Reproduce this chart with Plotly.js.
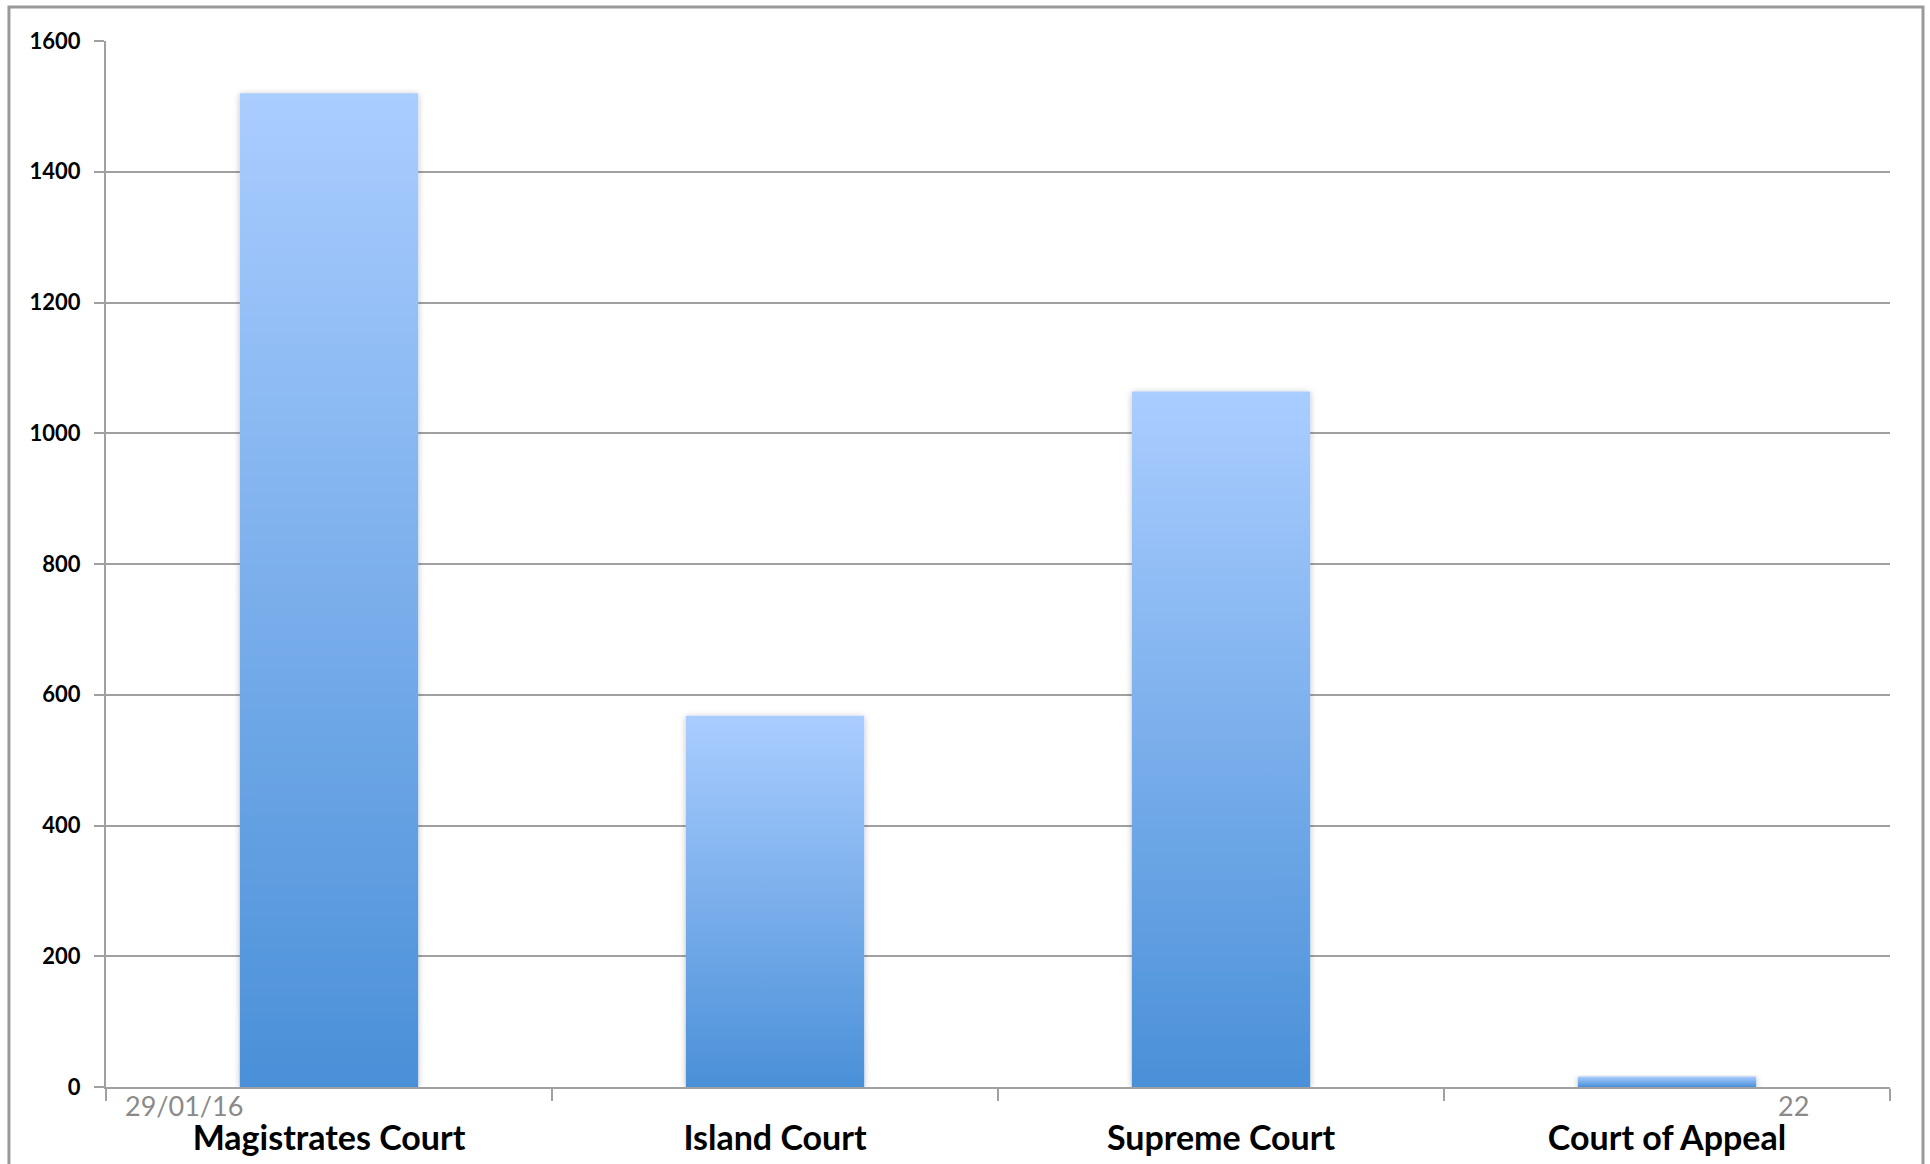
<!DOCTYPE html>
<html>
<head>
<meta charset="utf-8">
<script src="https://cdn.plot.ly/plotly-3.0.1.min.js"></script>
<style>
  html, body { margin: 0; padding: 0; background: #ffffff; }
  #chart { width: 1930px; height: 1164px; }
</style>
</head>
<body>
<div id="chart"></div>
<script>
// ---- data ----
const categories = ['Magistrates Court', 'Island Court', 'Supreme Court', 'Court of Appeal'];
const caseCounts = [1520, 568, 1064, 16];
const yTickValues = [0, 200, 400, 600, 800, 1000, 1200, 1400, 1600];
const footerDate = '29/01/16';
const footerPage = '22';

const gridColor = '#a0a0a0';

const trace = {
  type: 'bar',
  x: categories,
  y: caseCounts,
  marker: { color: '#78acec', line: { width: 0 } },
  hoverinfo: 'none'
};

const layout = {
  width: 1930,
  height: 1164,
  margin: { l: 106, r: 40, t: 41, b: 77, pad: 0 },
  paper_bgcolor: '#ffffff',
  plot_bgcolor: '#ffffff',
  bargap: 0.6,
  showlegend: false,
  font: { family: 'Lato, "Open Sans", sans-serif', color: '#000000' },
  xaxis: {
    type: 'category',
    showgrid: false,
    showline: true,
    linecolor: gridColor,
    linewidth: 2,
    ticks: 'outside',
    tickson: 'boundaries',
    ticklen: 12,
    tickwidth: 2,
    tickcolor: gridColor,
    ticklabelstandoff: 20,
    tickfont: { family: 'Lato, "Open Sans", sans-serif', size: 34, color: '#000000', weight: 'bold' },
    zeroline: false,
    fixedrange: true
  },
  yaxis: {
    range: [0, 1600],
    tickvals: yTickValues,
    ticktext: yTickValues.map(String),
    showgrid: true,
    gridcolor: gridColor,
    gridwidth: 2,
    showline: true,
    linecolor: gridColor,
    linewidth: 2,
    ticks: 'outside',
    ticklen: 10,
    tickwidth: 2,
    tickcolor: gridColor,
    ticklabelstandoff: 9,
    tickfont: { family: 'Lato, "Open Sans", sans-serif', size: 22, color: '#000000', weight: 'bold' },
    zeroline: false,
    fixedrange: true
  },
  shapes: [
    // outer frame of the slide chart
    { type: 'rect', xref: 'paper', yref: 'paper',
      x0: -0.0544, x1: 1.0185, y0: -0.2, y1: 1.0325,
      line: { color: '#9a9a9a', width: 3 }, fillcolor: 'rgba(0,0,0,0)', layer: 'below' },
    // y axis extension below the x axis
    { type: 'line', xref: 'paper', yref: 'paper',
      x0: 0, x1: 0, y0: 0, y1: -0.0105,
      line: { color: gridColor, width: 2 } }
  ],
  annotations: [
    { text: footerDate, xref: 'paper', yref: 'paper', x: 0.0094, y: -0.018,
      xanchor: 'left', yanchor: 'middle', showarrow: false,
      font: { family: 'Lato, "Open Sans", sans-serif', size: 27, color: '#8a8a8a' } },
    { text: footerPage, xref: 'paper', yref: 'paper', x: 0.9557, y: -0.018,
      xanchor: 'right', yanchor: 'middle', showarrow: false,
      font: { family: 'Lato, "Open Sans", sans-serif', size: 27, color: '#8a8a8a' } }
  ]
};

Plotly.newPlot('chart', [trace], layout, { displayModeBar: false, staticPlot: true }).then(function (gd) {
  const svgNS = 'http://www.w3.org/2000/svg';
  const svg = gd.querySelector('svg.main-svg');
  let defs = svg.querySelector('defs');
  if (!defs) { defs = document.createElementNS(svgNS, 'defs'); svg.insertBefore(defs, svg.firstChild); }

  const grad = document.createElementNS(svgNS, 'linearGradient');
  grad.setAttribute('id', 'barGrad');
  grad.setAttribute('x1', '0'); grad.setAttribute('y1', '0');
  grad.setAttribute('x2', '0'); grad.setAttribute('y2', '1');
  [['0', '#aacdff'], ['1', '#4a90d8']].forEach(function (s) {
    const st = document.createElementNS(svgNS, 'stop');
    st.setAttribute('offset', s[0]);
    st.setAttribute('stop-color', s[1]);
    grad.appendChild(st);
  });
  defs.appendChild(grad);

  const filt = document.createElementNS(svgNS, 'filter');
  filt.setAttribute('id', 'barShadow');
  filt.setAttribute('x', '-10%'); filt.setAttribute('y', '-10%');
  filt.setAttribute('width', '120%'); filt.setAttribute('height', '120%');
  const ds = document.createElementNS(svgNS, 'feDropShadow');
  ds.setAttribute('dx', '0'); ds.setAttribute('dy', '1');
  ds.setAttribute('stdDeviation', '3');
  ds.setAttribute('flood-color', '#000000');
  ds.setAttribute('flood-opacity', '0.25');
  filt.appendChild(ds);
  defs.appendChild(filt);

  gd.querySelectorAll('.barlayer .point path').forEach(function (p) {
    p.style.fill = 'url(#barGrad)';
    p.setAttribute('filter', 'url(#barShadow)');
  });
});
</script>
</body>
</html>
